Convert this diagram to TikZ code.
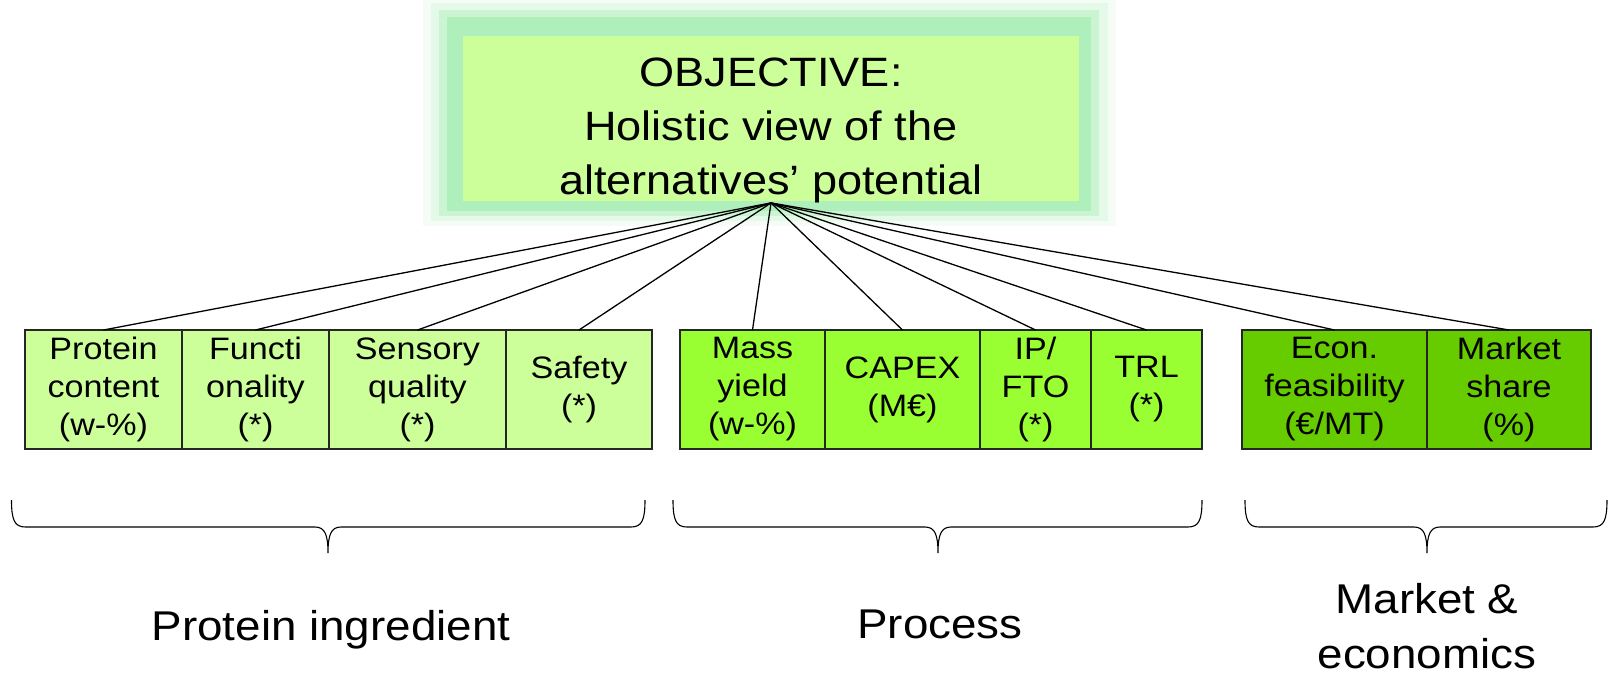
\documentclass[tikz,border=0pt]{standalone}
\usepackage{fontspec}
\setmainfont[FakeStretch=1.1]{Liberation Sans}
\usetikzlibrary{positioning}

\definecolor{ingred}{HTML}{CCFF99}
\definecolor{procs}{HTML}{99FF33}
\definecolor{econ}{HTML}{66CC00}
\definecolor{objfill}{HTML}{CCFF99}
\definecolor{glowa}{HTML}{AEEFBC}
\definecolor{glowb}{HTML}{CBF4D3}
\definecolor{glowc}{HTML}{E4F9E7}
\definecolor{glowd}{HTML}{F4FCF5}

\tikzset{cell/.style={draw=black!85,line width=0.65pt,minimum height=59.5pt,inner sep=0pt,outer sep=0pt,align=center,font=\fontsize{15.5}{19}\selectfont}}
\tikzset{objtext/.style={anchor=north,inner sep=0pt,align=center,font=\fontsize{20.5}{27}\selectfont}}
\tikzset{group/.style={inner sep=0pt,align=center,font=\fontsize{20.8}{27.5}\selectfont}}
\tikzset{link/.style={line width=0.65pt}}
\tikzset{curly/.style={line width=0.55pt}}

\begin{document}
\begin{tikzpicture}[x=0.5pt,y=-0.5pt]
        \useasboundingbox (0,0) rectangle (1608,676);
        % glow round the objective
        \fill[glowd] (423,0) rectangle (1116,226);
        \fill[glowc] (431,3) rectangle (1108,221);
        \fill[glowb] (439,10) rectangle (1099,216);
        \fill[glowa] (447,17) rectangle (1091,211);
        \fill[objfill] (463,36) rectangle (1079,201);
        \node[objtext] (obj) at (771,57) {OBJECTIVE:\\Holistic view of the\\alternatives’ potential};

        % protein ingredient
        \node[cell,fill=ingred,minimum width=78.5pt,anchor=west] (crit1) at (25,389.5) {Protein\\content\\(w-\%)};
        \node[cell,fill=ingred,minimum width=73.5pt,right=0pt of crit1] (crit2) {Functi\\onality\\(*)};
        \node[cell,fill=ingred,minimum width=88.5pt,right=0pt of crit2] (crit3) {Sensory\\quality\\(*)};
        \node[cell,fill=ingred,minimum width=73pt,right=0pt of crit3] (crit4) {Safety\\(*)};
        % process
        \node[cell,fill=procs,minimum width=72.5pt,anchor=west] (crit5) at (680,389.5) {Mass\\yield\\(w-\%)};
        \node[cell,fill=procs,minimum width=77.5pt,right=0pt of crit5] (crit6) {CAPEX\\(M€)};
        \node[cell,fill=procs,minimum width=55.5pt,right=0pt of crit6] (crit7) {IP/\\FTO\\(*)};
        \node[cell,fill=procs,minimum width=55.5pt,right=0pt of crit7] (crit8) {TRL\\(*)};
        % market
        \node[cell,fill=econ,minimum width=92.5pt,anchor=west] (crit9) at (1242,389.5) {Econ.\\feasibility\\(€/MT)};
        \node[cell,fill=econ,minimum width=82pt,right=0pt of crit9] (crit10) {Market\\share\\(\%)};

        \foreach \i in {1,...,10}
            \draw[link] (obj.south) -- (crit\i.north);

        % braces
        \foreach \a/\m/\b in {11.5/328/645,673/938/1202,1245/1427/1607}
            \draw[curly] (\a,500) .. controls (\a,520) and ({\a+3},527) .. ({\a+14},527) -- ({\m-13},527)
                .. controls ({\m-3},527) and (\m,535) .. (\m,553)
                .. controls (\m,535) and ({\m+3},527) .. ({\m+13},527) -- ({\b-14},527)
                .. controls ({\b-3},527) and (\b,520) .. (\b,500);

        \node[group,anchor=base] (ingredient) at (331,640) {Protein ingredient};
        \node[group,anchor=base] (process) at (940,638) {Process};
        \node[group,anchor=north] (market) at (1427,583) {Market \&\\economics};
    \end{tikzpicture}
\end{document}
